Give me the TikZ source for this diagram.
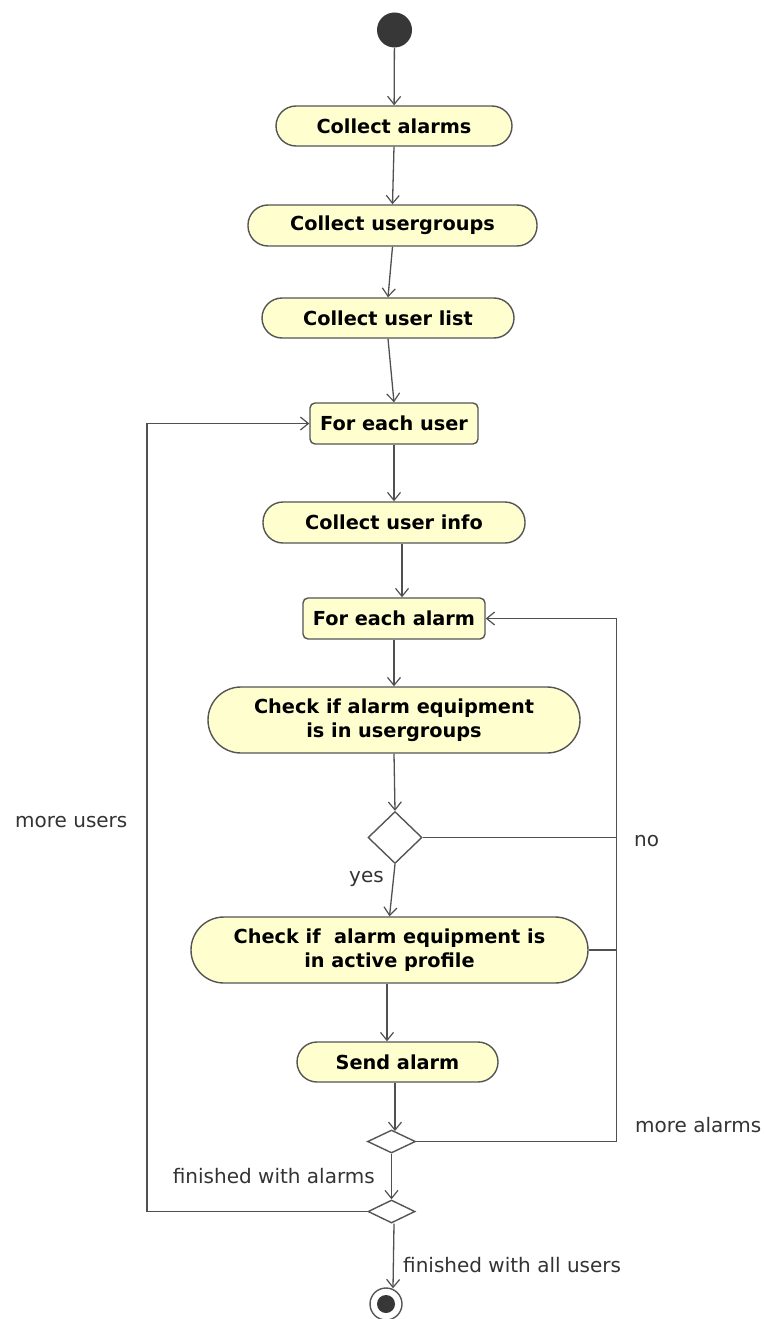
\documentclass[tikz,border=0pt]{standalone}
\usepackage{fontspec}
\setmainfont{DejaVu Sans}
\usetikzlibrary{arrows.meta,shapes.geometric}
\definecolor{actfill}{RGB}{254,254,206}
\definecolor{actline}{RGB}{85,85,85}
\definecolor{flowline}{RGB}{80,80,80}
\definecolor{dot}{RGB}{55,55,55}
\begin{document}
\begin{tikzpicture}[x=1pt,y=-1pt,
  every node/.style={font=\fontsize{19}{24}\selectfont},
  action/.style={draw=actline, line width=1.4pt, fill=actfill, inner sep=0pt,
    align=center, font=\fontsize{19.3}{24}\selectfont\bfseries},
  pill/.style={action, rounded corners=20pt, minimum height=40pt},
  bigpill/.style={action, rounded corners=33pt, minimum height=66pt},
  loopbox/.style={action, rounded corners=5pt, minimum height=41pt},
  decision/.style={diamond, draw=actline, line width=1.4pt, fill=white, inner sep=0pt},
  flow/.style={draw=flowline, line width=1.3pt, -{Straight Barb[length=8pt,width=13pt,line width=1.2pt]}},
  plain/.style={draw=flowline, line width=1.3pt},
  guard/.style={inner sep=0pt, text=black!80, font=\fontsize{20}{24}\selectfont}
]
\useasboundingbox (0,0) rectangle (763,1319);

% start and actions
\node[circle, fill=dot, minimum size=35pt, inner sep=0pt] (start) at (394.5,30) {};
\node[pill, minimum width=236pt] (alarms) at (394,126) {Collect alarms};
\node[pill, minimum width=289pt, minimum height=41pt] (groups) at (392.5,225.5) {Collect usergroups};
\node[pill, minimum width=252pt] (users) at (388,318) {Collect user list};
\node[loopbox, minimum width=168pt] (eachuser) at (394,423.5) {For each user};
\node[pill, minimum width=262pt, minimum height=41pt] (info) at (394,522.5) {Collect user info};
\node[loopbox, minimum width=182pt] (eachalarm) at (394,618.5) {For each alarm};
\node[bigpill, minimum width=372pt] (ingroups) at (394,720) {Check if alarm equipment\\is in usergroups};
\node[decision, minimum width=54pt, minimum height=52pt] (dec) at (395,837.5) {};
\node[bigpill, minimum width=397pt] (inprofile) at (389.5,950) {Check if\ \ alarm equipment is\\in active profile};
\node[pill, minimum width=201pt] (send) at (397.5,1062) {Send alarm};
\node[decision, minimum width=48pt, minimum height=23pt] (merge) at (391.5,1141.5) {};
\node[decision, minimum width=47pt, minimum height=23pt] (fork) at (391.5,1211.5) {};
\node[circle, draw=actline, line width=1.4pt, fill=white, minimum size=32pt, inner sep=0pt] (finish) at (386,1304) {};
\fill[dot] (finish.center) circle (9);

% loop rails
\coordinate (rightrail) at (616.5,0);
\coordinate (leftrail) at (147,0);

% main flow
\draw[flow] (start) -- (alarms);
\draw[flow] (alarms.south) -- (groups.north);
\draw[flow] (groups.south) -- (users.north);
\draw[flow] (users.south) -- (eachuser.north);
\draw[flow] (eachuser.south) -- (info.north);
\draw[flow] ([xshift=8]info.south) -- ([xshift=8]eachalarm.north);
\draw[flow] (eachalarm.south) -- (ingroups.north);
\draw[flow] (ingroups.south) -- (dec.north);
\draw[flow] (dec.south) -- (inprofile.north);
\draw[flow] ([xshift=-2.5]inprofile.south) -- ([xshift=-10.5]send.north);
\draw[flow] ([xshift=-2.5]send.south) -- ([xshift=3.5,yshift=-1.7]merge.north);
\draw[flow] (merge.south) -- (fork.north);
\draw[flow] ([xshift=2.5]fork.south) -- ([xshift=7,yshift=-1]finish.north);

% alarm loop back
\draw[plain] (dec.east) -- (dec.east -| rightrail);
\draw[plain] (inprofile.east) -- (inprofile.east -| rightrail);
\draw[flow] (merge.east) -- (merge.east -| rightrail) -- (eachalarm.east -| rightrail) -- (eachalarm.east);

% user loop back
\draw[flow] (fork.west) -- (fork.west -| leftrail) -- (eachuser.west -| leftrail) -- (eachuser.west);

% guards
\node[guard, anchor=base west] (lblusers) at (15,827) {more users};
\node[guard, anchor=base west] (lblno) at (634,846) {no};
\node[guard, anchor=base west] (lblyes) at (349,882) {yes};
\node[guard, anchor=base west] (lblalarms) at (635,1132) {more alarms};
\node[guard, anchor=base east] (lbldone) at (375,1183) {finished with alarms};
\node[guard, anchor=base west] (lblall) at (403,1272) {finished with all users};
\end{tikzpicture}
\end{document}
